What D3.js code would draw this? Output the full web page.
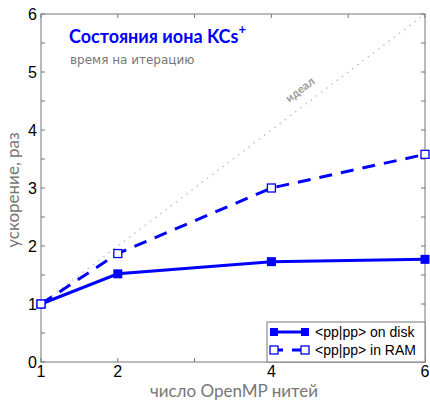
<!DOCTYPE html>
<html>
<head>
<meta charset="utf-8">
<title></title>
<script src="https://d3js.org/d3.v7.min.js"></script>
<style>
  body { margin: 0; background: #fff; }
  text { font-family: "Liberation Sans", Arial, sans-serif; }
  .lbl { font-family: Lato, "Open Sans", sans-serif; }
</style>
</head>
<body>
<div id="chart"></div>
<script>
// data
var threads = [1, 2, 4, 6];
var diskSpeedup = [1.0, 1.52, 1.73, 1.77];
var ramSpeedup = [1.0, 1.87, 3.0, 3.58];
var idealLine = [1, 6];
var xTickLabels = [1, 2, 4, 6];
var yTickLabels = [0, 1, 2, 3, 4, 5, 6];
var seriesNames = ["<pp|pp> on disk", "<pp|pp> in RAM"];

var W = 430, H = 400;
var m = {left: 41, right: 5, top: 14, bottom: 38};

var svg = d3.select("#chart").append("svg")
  .attr("width", W).attr("height", H);

var x = d3.scaleLinear().domain([1, 6]).range([m.left, W - m.right]);
var y = d3.scaleLinear().domain([0, 6]).range([H - m.bottom, m.top]);

var axisColor = "#777";

// frame
svg.append("rect")
  .attr("x", x(1)).attr("y", y(6))
  .attr("width", x(6) - x(1)).attr("height", y(0) - y(6))
  .attr("fill", "none").attr("stroke", axisColor).attr("stroke-width", 1);

// ticks inside the frame
var xt = d3.range(1, 7);
var yt = d3.range(0, 6.01, 0.5);
xt.forEach(function(v){
  svg.append("line").attr("x1", x(v)).attr("x2", x(v)).attr("y1", y(0)).attr("y2", y(0) - 4).attr("stroke", axisColor);
  svg.append("line").attr("x1", x(v)).attr("x2", x(v)).attr("y1", y(6)).attr("y2", y(6) + 4).attr("stroke", axisColor);
});
yt.forEach(function(v){
  svg.append("line").attr("x1", x(1)).attr("x2", x(1) + 4).attr("y1", y(v)).attr("y2", y(v)).attr("stroke", axisColor);
  svg.append("line").attr("x1", x(6)).attr("x2", x(6) - 4).attr("y1", y(v)).attr("y2", y(v)).attr("stroke", axisColor);
});

// tick labels
svg.selectAll(".xl").data(xTickLabels).enter().append("text")
  .attr("x", function(d){ return x(d); }).attr("y", y(0) + 15)
  .attr("text-anchor", "middle").attr("font-size", 16).text(function(d){ return d; });
svg.selectAll(".yl").data(yTickLabels).enter().append("text")
  .attr("x", x(1) - 4).attr("y", function(d){ return y(d) + 6; })
  .attr("text-anchor", "end").attr("font-size", 16).text(function(d){ return d; });

// axis titles
svg.append("text").attr("class", "lbl")
  .attr("x", 234).attr("y", 397).attr("text-anchor", "middle")
  .attr("font-size", 17).attr("fill", "#777").text("число OpenMP нитей");
svg.append("text").attr("class", "lbl")
  .attr("transform", "translate(19,190) rotate(-90)").attr("text-anchor", "middle")
  .attr("font-size", 17).attr("fill", "#777").text("ускорение, раз");

// ideal line
svg.append("line")
  .attr("x1", x(idealLine[0])).attr("y1", y(idealLine[0]))
  .attr("x2", x(idealLine[1])).attr("y2", y(idealLine[1]))
  .attr("stroke", "#c4c4c4").attr("stroke-width", 1.5).attr("stroke-dasharray", "1.5,5");
var ang = Math.atan2(y(idealLine[1]) - y(idealLine[0]), x(idealLine[1]) - x(idealLine[0])) * 180 / Math.PI;
svg.append("text").attr("class", "lbl")
  .attr("transform", "translate(" + x(4.49) + "," + y(4.49) + ") rotate(" + ang + ") translate(0,-11)")
  .attr("text-anchor", "middle").attr("font-size", 11.5).attr("font-weight", "bold")
  .attr("fill", "#999").text("идеал");

// series
var line = d3.line().x(function(d){ return x(d[0]); }).y(function(d){ return y(d[1]); });
var disk = threads.map(function(t, i){ return [t, diskSpeedup[i]]; });
var ram = threads.map(function(t, i){ return [t, ramSpeedup[i]]; });
var blue = "#0000ff";

svg.append("path").datum(ram).attr("d", line).attr("fill", "none")
  .attr("stroke", blue).attr("stroke-width", 3).attr("stroke-dasharray", "13,9");
svg.append("path").datum(disk).attr("d", line).attr("fill", "none")
  .attr("stroke", blue).attr("stroke-width", 3);

svg.selectAll(".dm").data(disk).enter().append("rect")
  .attr("x", function(d){ return x(d[0]) - 4.5; }).attr("y", function(d){ return y(d[1]) - 4.5; })
  .attr("width", 9).attr("height", 9).attr("fill", blue);
svg.selectAll(".rm").data(ram).enter().append("rect")
  .attr("x", function(d){ return x(d[0]) - 4; }).attr("y", function(d){ return y(d[1]) - 4; })
  .attr("width", 8).attr("height", 8).attr("fill", "#fff").attr("stroke", blue).attr("stroke-width", 1.3);

// title
var title = svg.append("text").attr("class", "lbl")
  .attr("x", 69).attr("y", 43).attr("font-size", 18).attr("font-weight", "bold").attr("fill", blue);
title.append("tspan").text("Состояния иона KCs");
title.append("tspan").attr("dy", -9).attr("font-size", 13).text("+");
svg.append("text")
  .attr("x", 70).attr("y", 64).attr("font-size", 12).attr("fill", "#777")
  .style("font-family", "'DejaVu Sans', sans-serif").text("время на итерацию");

// legend
var lg = svg.append("g");
lg.append("rect").attr("x", 267).attr("y", 322).attr("width", x(6) - 267).attr("height", y(0) - 322)
  .attr("fill", "#fff").attr("stroke", axisColor);
[0, 1].forEach(function(i){
  var ly = 332 + i * 18;
  lg.append("line").attr("x1", 274).attr("x2", 305).attr("y1", ly).attr("y2", ly)
    .attr("stroke", blue).attr("stroke-width", 3).attr("stroke-dasharray", i ? "9,9" : null);
  [274, 305].forEach(function(px){
    lg.append("rect").attr("x", px - 4).attr("y", ly - 4).attr("width", 8).attr("height", 8)
      .attr("fill", i ? "#fff" : blue).attr("stroke", blue).attr("stroke-width", i ? 1.3 : 0);
  });
  lg.append("text").attr("x", 315).attr("y", ly + 5).attr("font-size", 14).text(seriesNames[i]);
});
</script>
</body>
</html>
